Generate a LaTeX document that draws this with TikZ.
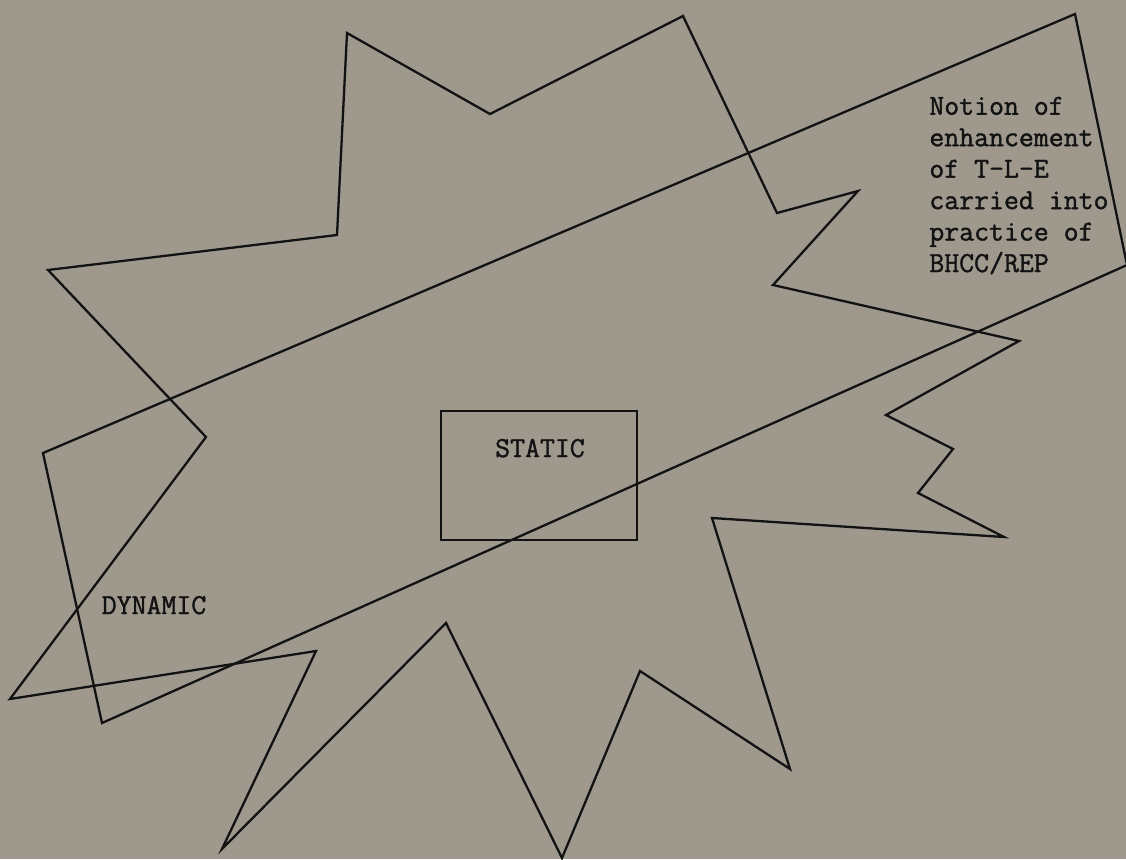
\documentclass[tikz,border=0pt]{standalone}
\usepackage{fontspec}
\usepackage{tikz}
\usetikzlibrary{positioning}

\newfontfamily\typewriter[FakeBold=1.3]{Latin Modern Mono}
\definecolor{paper}{RGB}{158,152,141}
\definecolor{ink}{RGB}{18,18,18}

\begin{document}
\begin{tikzpicture}[x=0.02cm, y=-0.02cm,
    outline/.style={draw=ink, line width=1.3pt, line join=miter},
    typed/.style={text=ink, inner sep=0, font=\typewriter\fontsize{16.5}{17.9}\selectfont}]

        \useasboundingbox (0,0) rectangle (1126,859);
        \fill[paper] (0,0) rectangle (1126,859);

        % the star
        \draw[outline] (347,33) -- (490,114) -- (683,16) -- (777,213) -- (858,191)
          -- (773,285) -- (1019,341) -- (886,415) -- (953,449) -- (918,493)
          -- (1004,537) -- (712,518) -- (790,769) -- (640,671) -- (562,858)
          -- (446,623) -- (222,849) -- (316,651) -- (10,699) -- (206,437)
          -- (48,270) -- (337,235) -- cycle;

        % the tilted band
        \draw[outline] (43,453) -- (1075,14) -- (1127,265) -- (102,723) -- cycle;

        % the box in the middle
        \draw[outline] (441,411) rectangle (637,540);
        \node[typed, anchor=base] (static) at (540,457) {STATIC};

        \node[typed, anchor=base] (dynamic) at (154,614) {DYNAMIC};
        % base of this one is its last line
        \node[typed, anchor=base west, align=left] (notion) at (929,272)
          {Notion of\\enhancement\\of T-L-E\\carried into\\practice of\\BHCC/REP};
      \end{tikzpicture}
\end{document}
